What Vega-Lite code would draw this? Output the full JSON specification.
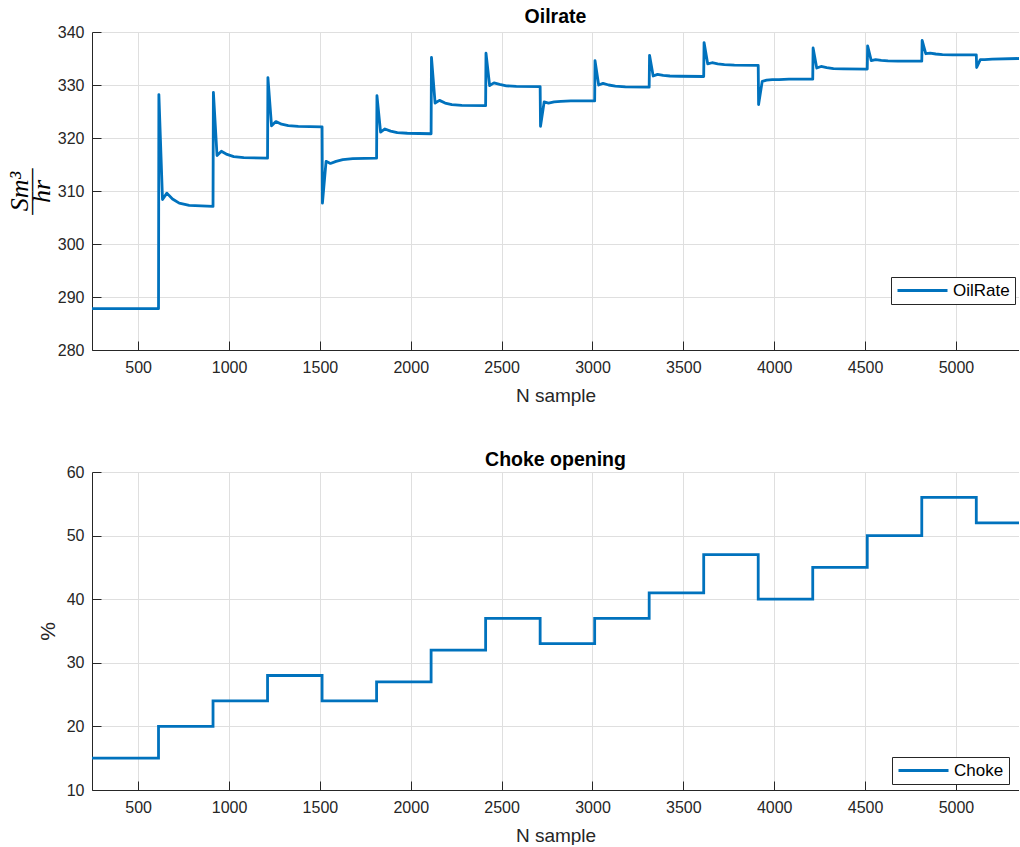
{
  "$schema": "https://vega.github.io/schema/vega-lite/v6.json",
  "background": "white",
  "padding": {"left": 6, "top": 6, "right": 0, "bottom": 0},
  "datasets": {
    "oil": [
      {"n": 246, "rate": 287.8}, {"n": 612, "rate": 287.8},
      {"n": 614, "rate": 328.2}, {"n": 634, "rate": 308.4}, {"n": 658, "rate": 309.6}, {"n": 689, "rate": 308.5}, {"n": 726, "rate": 307.7}, {"n": 781, "rate": 307.3}, {"n": 912, "rate": 307.1},
      {"n": 914, "rate": 328.6}, {"n": 934, "rate": 316.7}, {"n": 958, "rate": 317.5}, {"n": 989, "rate": 316.9}, {"n": 1026, "rate": 316.5}, {"n": 1081, "rate": 316.3}, {"n": 1212, "rate": 316.2},
      {"n": 1214, "rate": 331.4}, {"n": 1234, "rate": 322.3}, {"n": 1258, "rate": 323.1}, {"n": 1289, "rate": 322.6}, {"n": 1326, "rate": 322.35}, {"n": 1381, "rate": 322.2}, {"n": 1512, "rate": 322.1},
      {"n": 1514, "rate": 307.7}, {"n": 1534, "rate": 315.6}, {"n": 1558, "rate": 315.2}, {"n": 1589, "rate": 315.6}, {"n": 1626, "rate": 315.9}, {"n": 1681, "rate": 316.1}, {"n": 1812, "rate": 316.2},
      {"n": 1814, "rate": 328.0}, {"n": 1834, "rate": 321.1}, {"n": 1858, "rate": 321.7}, {"n": 1889, "rate": 321.3}, {"n": 1926, "rate": 321.0}, {"n": 1981, "rate": 320.9}, {"n": 2112, "rate": 320.8},
      {"n": 2114, "rate": 335.2}, {"n": 2134, "rate": 326.6}, {"n": 2158, "rate": 327.1}, {"n": 2189, "rate": 326.6}, {"n": 2226, "rate": 326.3}, {"n": 2281, "rate": 326.15}, {"n": 2412, "rate": 326.1},
      {"n": 2414, "rate": 336.0}, {"n": 2434, "rate": 329.9}, {"n": 2458, "rate": 330.4}, {"n": 2489, "rate": 330.1}, {"n": 2526, "rate": 329.85}, {"n": 2581, "rate": 329.75}, {"n": 2712, "rate": 329.7},
      {"n": 2714, "rate": 322.2}, {"n": 2734, "rate": 326.8}, {"n": 2758, "rate": 326.6}, {"n": 2789, "rate": 326.8}, {"n": 2826, "rate": 326.9}, {"n": 2881, "rate": 327.0}, {"n": 3012, "rate": 327.0},
      {"n": 3014, "rate": 334.6}, {"n": 3034, "rate": 330.0}, {"n": 3058, "rate": 330.3}, {"n": 3089, "rate": 330.0}, {"n": 3126, "rate": 329.8}, {"n": 3181, "rate": 329.65}, {"n": 3312, "rate": 329.6},
      {"n": 3314, "rate": 335.6}, {"n": 3334, "rate": 331.7}, {"n": 3358, "rate": 332.0}, {"n": 3389, "rate": 331.8}, {"n": 3426, "rate": 331.7}, {"n": 3481, "rate": 331.65}, {"n": 3612, "rate": 331.6},
      {"n": 3614, "rate": 338.0}, {"n": 3634, "rate": 334.0}, {"n": 3658, "rate": 334.2}, {"n": 3689, "rate": 334.0}, {"n": 3726, "rate": 333.85}, {"n": 3781, "rate": 333.75}, {"n": 3912, "rate": 333.7},
      {"n": 3914, "rate": 326.3}, {"n": 3934, "rate": 330.7}, {"n": 3958, "rate": 330.9}, {"n": 3989, "rate": 331.0}, {"n": 4026, "rate": 331.0}, {"n": 4081, "rate": 331.1}, {"n": 4212, "rate": 331.1},
      {"n": 4214, "rate": 337.0}, {"n": 4234, "rate": 333.2}, {"n": 4258, "rate": 333.5}, {"n": 4289, "rate": 333.3}, {"n": 4326, "rate": 333.1}, {"n": 4381, "rate": 333.05}, {"n": 4512, "rate": 333.0},
      {"n": 4514, "rate": 337.4}, {"n": 4534, "rate": 334.6}, {"n": 4558, "rate": 334.8}, {"n": 4589, "rate": 334.65}, {"n": 4626, "rate": 334.55}, {"n": 4681, "rate": 334.5}, {"n": 4812, "rate": 334.5},
      {"n": 4814, "rate": 338.4}, {"n": 4834, "rate": 335.9}, {"n": 4858, "rate": 336.0}, {"n": 4889, "rate": 335.85}, {"n": 4926, "rate": 335.75}, {"n": 4981, "rate": 335.7}, {"n": 5112, "rate": 335.7},
      {"n": 5114, "rate": 333.3}, {"n": 5134, "rate": 334.8}, {"n": 5158, "rate": 334.8}, {"n": 5200, "rate": 334.9}, {"n": 5347, "rate": 335.0}
    ],
    "choke": [
      {"n": 246, "pct": 15}, {"n": 612, "pct": 20}, {"n": 912, "pct": 24}, {"n": 1212, "pct": 28},
      {"n": 1512, "pct": 24}, {"n": 1812, "pct": 27}, {"n": 2112, "pct": 32}, {"n": 2412, "pct": 37},
      {"n": 2712, "pct": 33}, {"n": 3012, "pct": 37}, {"n": 3312, "pct": 41}, {"n": 3612, "pct": 47},
      {"n": 3912, "pct": 40}, {"n": 4212, "pct": 45}, {"n": 4512, "pct": 50}, {"n": 4812, "pct": 56},
      {"n": 5112, "pct": 52}, {"n": 5347, "pct": 52}
    ]
  },
  "config": {
    "font": "Liberation Sans",
    "view": {"stroke": null},
    "axis": {
      "labelFont": "Liberation Sans",
      "labelFontSize": 16,
      "labelColor": "#262626",
      "titleFont": "Liberation Sans",
      "titleFontSize": 19,
      "titleFontWeight": "normal",
      "titleColor": "#262626",
      "domainColor": "#262626",
      "domainWidth": 1,
      "tickColor": "#262626",
      "tickWidth": 1,
      "tickSize": -9,
      "gridColor": "#dfdfdf",
      "gridWidth": 1
    },
    "legend": {
      "orient": "none",
      "title": null,
      "labelFont": "Liberation Sans",
      "labelFontSize": 17,
      "labelColor": "#000000",
      "symbolType": "stroke",
      "symbolSize": 2500,
      "symbolStrokeWidth": 3,
      "clipHeight": 17,
      "strokeColor": "#262626",
      "fillColor": "#ffffff",
      "padding": 5,
      "labelOffset": 4
    },
    "title": {"font": "Liberation Sans", "fontSize": 19.5, "fontWeight": "bold", "color": "#000000", "frame": "group", "offset": -3}
  },
  "spacing": 44,
  "vconcat": [
    {
      "title": "Oilrate",
      "width": 927,
      "height": 318,
      "data": {"name": "oil"},
      "transform": [{"calculate": "'OilRate'", "as": "series"}],
      "mark": {"type": "line", "strokeWidth": 2.8, "strokeJoin": "round", "clip": true},
      "encoding": {
        "x": {"field": "n", "type": "quantitative", "scale": {"domain": [246, 5347], "nice": false, "zero": false},
              "axis": {"title": "N sample", "values": [500, 1000, 1500, 2000, 2500, 3000, 3500, 4000, 4500, 5000], "format": "d", "labelPadding": 18, "titlePadding": 11}},
        "y": {"field": "rate", "type": "quantitative", "scale": {"domain": [280, 340], "nice": false, "zero": false},
              "axis": {"title": ["Sm³", "——", "hr"], "titleFont": "Liberation Serif", "titleFontStyle": "italic", "titleFontSize": 26, "titleLineHeight": 11, "titleColor": "#000000", "values": [280, 290, 300, 310, 320, 330, 340], "labelPadding": 17, "titlePadding": 3}},
        "color": {"field": "series", "type": "nominal", "scale": {"range": ["#0072BD"]},
                  "legend": {"legendX": 799, "legendY": 245}}
      }
    },
    {
      "title": {"text": "Choke opening", "offset": -6},
      "width": 927,
      "height": 318,
      "data": {"name": "choke"},
      "transform": [{"calculate": "'Choke'", "as": "series"}],
      "mark": {"type": "line", "interpolate": "step-after", "strokeWidth": 2.8, "clip": true},
      "encoding": {
        "x": {"field": "n", "type": "quantitative", "scale": {"domain": [246, 5347], "nice": false, "zero": false},
              "axis": {"title": "N sample", "values": [500, 1000, 1500, 2000, 2500, 3000, 3500, 4000, 4500, 5000], "format": "d", "labelPadding": 18, "titlePadding": 11}},
        "y": {"field": "pct", "type": "quantitative", "scale": {"domain": [10, 60], "nice": false, "zero": false},
              "axis": {"title": "%", "titleFontSize": 21, "values": [10, 20, 30, 40, 50, 60], "labelPadding": 17, "titlePadding": 8}},
        "color": {"field": "series", "type": "nominal", "scale": {"range": ["#0072BD"]},
                  "legend": {"legendX": 800, "legendY": 285}}
      }
    }
  ],
  "resolve": {"scale": {"color": "independent"}}
}
